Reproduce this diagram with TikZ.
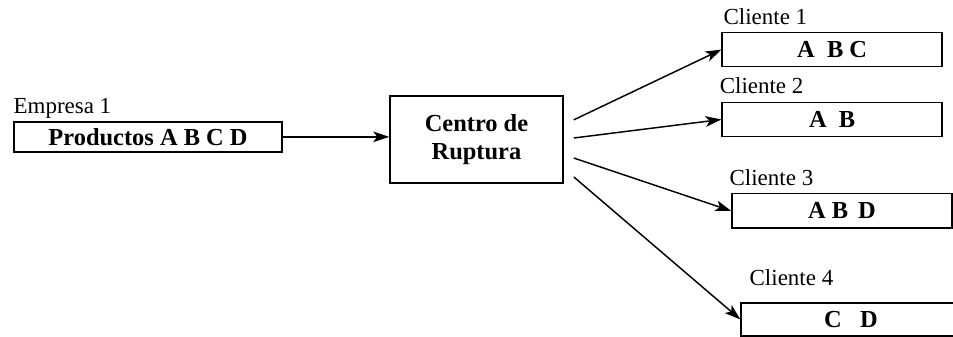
\documentclass[tikz,border=0pt]{standalone}
\usepackage{fontspec}
\setmainfont{Liberation Serif}
\usepackage{tikz}
\usetikzlibrary{arrows.meta}
\usetikzlibrary{shapes,calc}

\begin{document}
\begin{tikzpicture}
    \tikzstyle{dedge} = [line width=1.1pt,->,>={Stealth[length=12pt,width=8pt,inset=3pt]},draw=black]
    \tikzstyle{box}=[
      rectangle,
      draw=black,
      line width=1.1pt,
      anchor=center,
      inner sep=0pt,
      font=\fontsize{18.4}{21}\selectfont\bfseries,
    ]
    \tikzstyle{company}=[
      box,
      minimum width=7.09cm,
      minimum height=0.79cm,
    ]
    \tikzstyle{client}=[
      box,
      minimum width=5.82cm,
      minimum height=0.91cm,
    ]
    \tikzstyle{tag}=[
      anchor=base west,
      inner sep=0pt,
      font=\fontsize{17.3}{20}\selectfont,
    ]

    \useasboundingbox (0,0) rectangle (25.215,-8.916);

    \coordinate (centroAnchor) at (12.607,-3.691);

    % break center
    {
      \node[box, minimum width=4.58cm, minimum height=2.30cm, align=center] (centro) at ([xshift=0cm, yshift=0cm] centroAnchor) {Centro de\\Ruptura};
    }

    % supplier
    {
      \node[company] (empresa1) at ([xshift=-8.69cm, yshift=0.07cm] centroAnchor) {Productos A B C D};
      \node[tag] (empresa1Txt) at ([xshift=0cm, yshift=0.21cm] empresa1.north west) {Empresa 1};

      \draw[dedge] (empresa1.east)--(empresa1.east -| centro.west);
    }

    % clients
    {
      \node[client] (cliente1) at ([xshift=9.41cm, yshift=2.38cm] centroAnchor) {A \ B C};
      \node[client] (cliente2) at ([xshift=9.41cm, yshift=0.53cm] centroAnchor) {A \ B};
      \node[client] (cliente3) at ([xshift=9.67cm, yshift=-1.89cm] centroAnchor) {A B \,D};
      \node[client, minimum height=0.88cm] (cliente4) at ([xshift=9.91cm, yshift=-4.76cm] centroAnchor) {C \ \ D};

      \node[tag] (cliente1Txt) at ([xshift=0.05cm, yshift=0.19cm] cliente1.north west) {Cliente 1};
      \node[tag] (cliente2Txt) at ([xshift=-0.05cm, yshift=0.21cm] cliente2.north west) {Cliente 2};
      \node[tag] (cliente3Txt) at ([xshift=-0.05cm, yshift=0.21cm] cliente3.north west) {Cliente 3};
      \node[tag] (cliente4Txt) at ([xshift=0.24cm, yshift=0.45cm] cliente4.north west) {Cliente 4};

      \coordinate (out1) at ([xshift=0.265cm, yshift=0.52cm] centro.east);
      \coordinate (out2) at ([xshift=0.265cm, yshift=0.04cm] centro.east);
      \coordinate (out3) at ([xshift=0.265cm, yshift=-0.49cm] centro.east);
      \coordinate (out4) at ([xshift=0.265cm, yshift=-0.99cm] centro.east);

      \draw[dedge] (out1)--(cliente1.west);
      \draw[dedge] (out2)--(cliente2.west);
      \draw[dedge] (out3)--(cliente3.west);
      \draw[dedge] (out4)--(cliente4.west);
    }
\end{tikzpicture}
\end{document}
